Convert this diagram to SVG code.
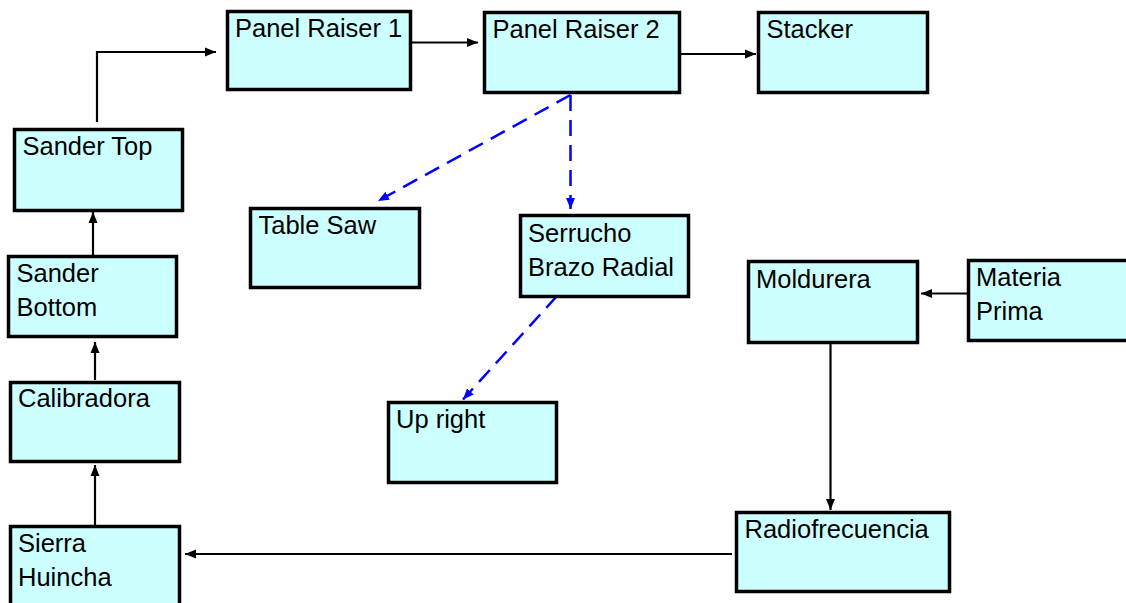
<svg xmlns="http://www.w3.org/2000/svg" width="1126" height="603" viewBox="0 0 1126 603">
  <style>
    .box { fill: #CCFFFF; stroke: #000000; stroke-width: 3.5; }
    .lbl { font-family: "Liberation Sans", Arial, sans-serif; font-size: 25.5px; fill: #000000; }
    .flow { fill: none; stroke: #000000; stroke-width: 2.2; }
    .alt { fill: none; stroke: #0000FF; stroke-width: 2.5; stroke-dasharray: 16 9; }
  </style>
  <defs>
    <marker id="arrowBlack" markerUnits="userSpaceOnUse" markerWidth="12" markerHeight="10" refX="11" refY="5" orient="auto">
      <path d="M0,0.5 L11,5 L0,9.5 Z" fill="#000000"/>
    </marker>
    <marker id="arrowBlue" markerUnits="userSpaceOnUse" markerWidth="12" markerHeight="10" refX="11" refY="5" orient="auto">
      <path d="M0,0.5 L11,5 L0,9.5 Z" fill="#0000FF"/>
    </marker>
  </defs>
  <rect width="1126" height="603" fill="#FFFFFF"/>

  <g id="connectors">
    <path class="flow" d="M97,122 V52 H216" marker-end="url(#arrowBlack)"/>
    <path class="flow" d="M412,42.5 H478" marker-end="url(#arrowBlack)"/>
    <path class="flow" d="M681,54 H756" marker-end="url(#arrowBlack)"/>
    <path class="alt" d="M570.5,95 L378,201" marker-end="url(#arrowBlue)"/>
    <path class="alt" d="M570.5,95 V209" marker-end="url(#arrowBlue)"/>
    <path class="alt" d="M557,296 L463,399.5" marker-end="url(#arrowBlue)"/>
    <path class="flow" d="M967,293.5 H921" marker-end="url(#arrowBlack)"/>
    <path class="flow" d="M830.5,344 V510" marker-end="url(#arrowBlack)"/>
    <path class="flow" d="M732,554 H185" marker-end="url(#arrowBlack)"/>
    <path class="flow" d="M95,525 V465" marker-end="url(#arrowBlack)"/>
    <path class="flow" d="M95,380 V342" marker-end="url(#arrowBlack)"/>
    <path class="flow" d="M93,255 V212" marker-end="url(#arrowBlack)"/>
  </g>

  <g id="panel-raiser-1">
    <rect class="box" x="227.5" y="11.5" width="183" height="78"/>
    <text class="lbl" x="235" y="36.5">Panel Raiser 1</text>
  </g>
  <g id="panel-raiser-2">
    <rect class="box" x="484.5" y="12.5" width="195" height="80"/>
    <text class="lbl" x="492.5" y="37.5">Panel Raiser 2</text>
  </g>
  <g id="stacker">
    <rect class="box" x="758.5" y="12.5" width="169" height="80"/>
    <text class="lbl" x="766.5" y="37.5">Stacker</text>
  </g>
  <g id="sander-top">
    <rect class="box" x="14.5" y="129.5" width="168" height="81"/>
    <text class="lbl" x="22.5" y="155">Sander Top</text>
  </g>
  <g id="table-saw">
    <rect class="box" x="250.5" y="208.5" width="169" height="79"/>
    <text class="lbl" x="258.5" y="233.5">Table Saw</text>
  </g>
  <g id="serrucho-brazo-radial">
    <rect class="box" x="520.5" y="215.5" width="168" height="81"/>
    <text class="lbl" x="528" y="241.5">Serrucho</text>
    <text class="lbl" x="528" y="276">Brazo Radial</text>
  </g>
  <g id="sander-bottom">
    <rect class="box" x="8.5" y="256.5" width="168" height="80"/>
    <text class="lbl" x="16.5" y="282">Sander</text>
    <text class="lbl" x="16.5" y="316">Bottom</text>
  </g>
  <g id="moldurera">
    <rect class="box" x="748.5" y="261.5" width="169" height="81"/>
    <text class="lbl" x="756" y="287.5">Moldurera</text>
  </g>
  <g id="materia-prima">
    <rect class="box" x="968.5" y="260.5" width="170" height="80"/>
    <text class="lbl" x="976" y="285.5">Materia</text>
    <text class="lbl" x="976" y="319.5">Prima</text>
  </g>
  <g id="calibradora">
    <rect class="box" x="10.5" y="382.5" width="169" height="79"/>
    <text class="lbl" x="18" y="407">Calibradora</text>
  </g>
  <g id="up-right">
    <rect class="box" x="388.5" y="402.5" width="168" height="80"/>
    <text class="lbl" x="396" y="427.5">Up right</text>
  </g>
  <g id="radiofrecuencia">
    <rect class="box" x="736.5" y="512.5" width="213" height="79"/>
    <text class="lbl" x="744.5" y="537.5">Radiofrecuencia</text>
  </g>
  <g id="sierra-huincha">
    <rect class="box" x="10.5" y="526.5" width="169" height="80"/>
    <text class="lbl" x="18" y="552">Sierra</text>
    <text class="lbl" x="18" y="586">Huincha</text>
  </g>
</svg>
